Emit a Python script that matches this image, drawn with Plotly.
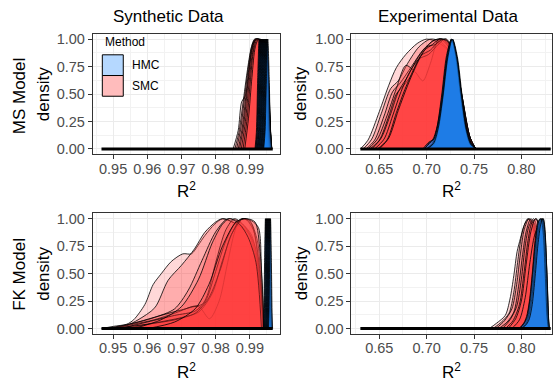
import plotly.graph_objects as go

W, H = 553, 381

# ---------------------------------------------------------------------------
# Data: scaled posterior densities of R^2, stored as (R^2, density) knots
# ---------------------------------------------------------------------------
syn_ticks = [0.95, 0.96, 0.97, 0.98, 0.99]
syn_tick_text = ["0.95", "0.96", "0.97", "0.98", "0.99"]
exp_ticks = [0.65, 0.70, 0.75, 0.80]
exp_tick_text = ["0.65", "0.70", "0.75", "0.80"]
density_ticks = [0.0, 0.25, 0.50, 0.75, 1.00]
density_tick_text = ["0.00", "0.25", "0.50", "0.75", "1.00"]

# sample range of R^2 in each panel (densities are zero outside their support)
ms_syn_range = [0.9466, 0.9967]
ms_exp_range = [0.6300, 0.8310]
fk_syn_range = [0.9466, 0.9967]
fk_exp_range = [0.6300, 0.8310]

# MS model, synthetic data
ms_syn_smc = [
    [(0.9851, 0), (0.9866, 0.17), (0.9876, 0.43), (0.9886, 0.48), (0.9895, 0.62), (0.9905, 0.89),
     (0.9915, 1.0), (0.9930, 1.0), (0.9945, 0.97), (0.9955, 0.6), (0.9962, 0)],
    [(0.9856, 0), (0.9868, 0.15), (0.9880, 0.42), (0.9892, 0.70), (0.9904, 0.92), (0.9914, 1.0),
     (0.9930, 0.98), (0.9946, 0.92), (0.9956, 0.5), (0.9962, 0)],
    [(0.9861, 0), (0.9873, 0.18), (0.9885, 0.48), (0.9896, 0.75), (0.9907, 0.95), (0.9918, 1.0),
     (0.9934, 0.97), (0.9948, 0.85), (0.9957, 0.4), (0.9962, 0)],
    [(0.9866, 0), (0.9878, 0.20), (0.9889, 0.50), (0.9900, 0.80), (0.9911, 0.97), (0.9922, 1.0),
     (0.9937, 0.95), (0.9950, 0.75), (0.9958, 0.3), (0.9963, 0)],
    [(0.9870, 0), (0.9882, 0.22), (0.9893, 0.55), (0.9903, 0.84), (0.9914, 0.98), (0.9925, 1.0),
     (0.9940, 0.93), (0.9951, 0.7), (0.9958, 0.3), (0.9963, 0)],
    [(0.9875, 0), (0.9887, 0.25), (0.9897, 0.58), (0.9907, 0.86), (0.9918, 1.0), (0.9930, 0.99),
     (0.9942, 0.9), (0.9952, 0.6), (0.9959, 0.2), (0.9963, 0)],
    [(0.9880, 0), (0.9891, 0.25), (0.9901, 0.60), (0.9911, 0.90), (0.9922, 1.0), (0.9934, 0.97),
     (0.9945, 0.85), (0.9954, 0.5), (0.9960, 0.15), (0.9964, 0)],
    [(0.9885, 0), (0.9896, 0.28), (0.9906, 0.65), (0.9916, 0.93), (0.9926, 1.0), (0.9938, 0.96),
     (0.9948, 0.8), (0.9956, 0.4), (0.9964, 0)],
]
ms_syn_hmc = [
    [(0.99150, 0), (0.99190, 0.15), (0.99230, 0.65), (0.99270, 1.0), (0.99310, 0.64), (0.99350, 0.15), (0.99390, 0)],
    [(0.99165, 0), (0.99205, 0.14), (0.99245, 0.63), (0.99285, 1.0), (0.99325, 0.66), (0.99365, 0.16), (0.99405, 0)],
    [(0.99180, 0), (0.99220, 0.16), (0.99260, 0.66), (0.99300, 1.0), (0.99340, 0.64), (0.99380, 0.14), (0.99420, 0)],
    [(0.99195, 0), (0.99235, 0.15), (0.99275, 0.64), (0.99315, 1.0), (0.99355, 0.65), (0.99395, 0.15), (0.99435, 0)],
    [(0.99210, 0), (0.99250, 0.13), (0.99290, 0.65), (0.99330, 1.0), (0.99370, 0.63), (0.99410, 0.16), (0.99450, 0)],
    [(0.99225, 0), (0.99265, 0.15), (0.99305, 0.64), (0.99345, 1.0), (0.99385, 0.66), (0.99425, 0.15), (0.99465, 0)],
    [(0.99240, 0), (0.99280, 0.16), (0.99320, 0.66), (0.99360, 1.0), (0.99400, 0.64), (0.99440, 0.14), (0.99480, 0)],
    [(0.99255, 0), (0.99295, 0.14), (0.99335, 0.63), (0.99375, 1.0), (0.99415, 0.65), (0.99455, 0.16), (0.99495, 0)],
    [(0.99270, 0), (0.99310, 0.15), (0.99350, 0.65), (0.99390, 1.0), (0.99430, 0.64), (0.99470, 0.15), (0.99510, 0)],
    [(0.99285, 0), (0.99325, 0.16), (0.99365, 0.64), (0.99405, 1.0), (0.99445, 0.66), (0.99485, 0.14), (0.99525, 0)],
    [(0.99300, 0), (0.99340, 0.15), (0.99380, 0.66), (0.99420, 1.0), (0.99460, 0.63), (0.99500, 0.15), (0.99540, 0)],
    [(0.99315, 0), (0.99355, 0.14), (0.99395, 0.64), (0.99435, 1.0), (0.99475, 0.65), (0.99515, 0.16), (0.99555, 0)],
    [(0.99330, 0), (0.99370, 0.15), (0.99410, 0.65), (0.99450, 1.0), (0.99490, 0.64), (0.99530, 0.15), (0.99570, 0)],
    [(0.99345, 0), (0.99385, 0.16), (0.99425, 0.63), (0.99465, 1.0), (0.99505, 0.66), (0.99545, 0.14), (0.99585, 0)],
    [(0.99360, 0), (0.99400, 0.15), (0.99440, 0.66), (0.99480, 1.0), (0.99520, 0.64), (0.99560, 0.15), (0.99600, 0)],
    [(0.99375, 0), (0.99415, 0.14), (0.99455, 0.64), (0.99495, 1.0), (0.99535, 0.65), (0.99575, 0.16), (0.99615, 0)],
    [(0.99390, 0), (0.99430, 0.15), (0.99470, 0.65), (0.99510, 1.0), (0.99550, 0.63), (0.99590, 0.15), (0.99630, 0)],
    [(0.99405, 0), (0.99445, 0.16), (0.99485, 0.64), (0.99525, 1.0), (0.99565, 0.66), (0.99605, 0.14), (0.99645, 0)],
]

# MS model, experimental data
ms_exp_smc = [
    [(0.630, 0), (0.638, 0.08), (0.650, 0.34), (0.660, 0.58), (0.668, 0.74), (0.678, 0.86), (0.690, 0.96),
     (0.700, 1.0), (0.712, 0.97), (0.724, 0.88), (0.735, 0.50), (0.744, 0.12), (0.751, 0)],
    [(0.633, 0), (0.642, 0.09), (0.652, 0.32), (0.662, 0.55), (0.670, 0.62), (0.680, 0.78), (0.692, 0.93),
     (0.704, 1.0), (0.714, 0.98), (0.726, 0.86), (0.736, 0.48), (0.745, 0.10), (0.752, 0)],
    [(0.636, 0), (0.645, 0.08), (0.655, 0.30), (0.664, 0.52), (0.672, 0.60), (0.684, 0.75), (0.696, 0.90),
     (0.708, 0.99), (0.717, 1.0), (0.727, 0.85), (0.737, 0.45), (0.746, 0.10), (0.752, 0)],
    [(0.638, 0), (0.648, 0.09), (0.658, 0.30), (0.668, 0.55), (0.678, 0.76), (0.688, 0.70), (0.696, 0.62),
     (0.704, 0.78), (0.713, 1.0), (0.724, 0.92), (0.735, 0.52), (0.745, 0.12), (0.751, 0)],
    [(0.640, 0), (0.650, 0.08), (0.660, 0.30), (0.668, 0.50), (0.676, 0.58), (0.686, 0.70), (0.696, 0.88),
     (0.706, 0.98), (0.716, 1.0), (0.725, 0.93), (0.735, 0.55), (0.744, 0.12), (0.751, 0)],
    [(0.642, 0), (0.652, 0.10), (0.662, 0.32), (0.670, 0.52), (0.680, 0.66), (0.690, 0.82), (0.700, 0.93),
     (0.709, 0.95), (0.718, 1.0), (0.727, 0.90), (0.737, 0.48), (0.746, 0.10), (0.752, 0)],
    [(0.645, 0), (0.655, 0.09), (0.664, 0.30), (0.672, 0.50), (0.682, 0.70), (0.692, 0.82), (0.702, 0.86),
     (0.712, 0.95), (0.720, 1.0), (0.728, 0.88), (0.737, 0.50), (0.745, 0.12), (0.751, 0)],
    [(0.648, 0), (0.658, 0.08), (0.668, 0.33), (0.676, 0.52), (0.686, 0.72), (0.694, 0.85), (0.704, 0.90),
     (0.713, 0.98), (0.721, 1.0), (0.729, 0.85), (0.738, 0.45), (0.746, 0.10), (0.752, 0)],
    [(0.650, 0), (0.660, 0.10), (0.670, 0.35), (0.680, 0.58), (0.690, 0.78), (0.698, 0.90), (0.706, 0.95),
     (0.714, 1.0), (0.722, 0.98), (0.730, 0.82), (0.738, 0.45), (0.746, 0.10), (0.752, 0)],
]
ms_exp_hmc = [
    [(0.6996, 0), (0.7066, 0.05), (0.7116, 0.19), (0.7166, 0.48), (0.7216, 0.83), (0.7266, 1.0),
     (0.7316, 0.83), (0.7366, 0.48), (0.7416, 0.19), (0.7466, 0.05), (0.7526, 0)],
    [(0.6960, 0), (0.7020, 0.06), (0.7060, 0.08), (0.7110, 0.20), (0.7161, 0.47), (0.7211, 0.82), (0.7260, 1.0),
     (0.7309, 0.84), (0.7358, 0.49), (0.7408, 0.19), (0.7458, 0.04), (0.7518, 0)],
    [(0.7000, 0), (0.7070, 0.05), (0.7120, 0.20), (0.7170, 0.49), (0.7220, 0.84), (0.7270, 1.0),
     (0.7320, 0.82), (0.7370, 0.47), (0.7420, 0.18), (0.7470, 0.05), (0.7528, 0)],
    [(0.6980, 0), (0.7040, 0.07), (0.7090, 0.10), (0.7140, 0.30), (0.7190, 0.65), (0.7240, 0.93), (0.7264, 1.0),
     (0.7314, 0.85), (0.7364, 0.50), (0.7414, 0.20), (0.7464, 0.05), (0.7524, 0)],
    [(0.7004, 0), (0.7074, 0.04), (0.7124, 0.18), (0.7174, 0.47), (0.7224, 0.82), (0.7274, 1.0),
     (0.7324, 0.84), (0.7374, 0.49), (0.7424, 0.19), (0.7474, 0.05), (0.7530, 0)],
    [(0.6990, 0), (0.7060, 0.05), (0.7110, 0.20), (0.7160, 0.50), (0.7210, 0.85), (0.7262, 1.0),
     (0.7312, 0.82), (0.7362, 0.47), (0.7412, 0.18), (0.7462, 0.04), (0.7520, 0)],
    [(0.6970, 0), (0.7030, 0.05), (0.7075, 0.09), (0.7120, 0.22), (0.7168, 0.48), (0.7218, 0.84), (0.7268, 1.0),
     (0.7318, 0.83), (0.7368, 0.48), (0.7418, 0.19), (0.7468, 0.05), (0.7526, 0)],
    [(0.7002, 0), (0.7072, 0.05), (0.7122, 0.19), (0.7172, 0.48), (0.7222, 0.83), (0.7270, 1.0),
     (0.7318, 0.84), (0.7368, 0.49), (0.7418, 0.18), (0.7468, 0.04), (0.7526, 0)],
]

# FK model, synthetic data
fk_syn_smc = [
    [(0.9466, 0), (0.9500, 0.02), (0.9540, 0.04), (0.9560, 0.08), (0.9593, 0.22), (0.9617, 0.40),
     (0.9641, 0.50), (0.9670, 0.61), (0.9704, 0.68), (0.9729, 0.68), (0.9748, 0.755), (0.9768, 0.845),
     (0.9797, 0.95), (0.9821, 1.0), (0.9850, 0.97), (0.9890, 0.90), (0.9920, 0.60), (0.9935, 0.15), (0.9940, 0)],
    [(0.9480, 0), (0.9540, 0.03), (0.9573, 0.08), (0.9622, 0.19), (0.9661, 0.44), (0.9700, 0.576),
     (0.9738, 0.725), (0.9768, 0.875), (0.9800, 0.97), (0.9820, 1.0), (0.9860, 0.95), (0.9900, 0.85),
     (0.9925, 0.50), (0.9938, 0)],
    [(0.9490, 0), (0.9550, 0.04), (0.9620, 0.10), (0.9680, 0.18), (0.9720, 0.35), (0.9760, 0.62),
     (0.9800, 0.88), (0.9835, 1.0), (0.9870, 0.97), (0.9905, 0.85), (0.9928, 0.45), (0.9940, 0)],
    [(0.9500, 0), (0.9560, 0.04), (0.9620, 0.08), (0.9680, 0.14), (0.9730, 0.20), (0.9760, 0.22),
     (0.9775, 0.30), (0.9800, 0.60), (0.9830, 0.90), (0.9855, 1.0), (0.9885, 0.93), (0.9915, 0.75),
     (0.9932, 0.30), (0.9940, 0)],
    [(0.9480, 0), (0.9560, 0.05), (0.9640, 0.12), (0.9700, 0.17), (0.9750, 0.20), (0.9782, 0.09),
     (0.9810, 0.25), (0.9835, 0.60), (0.9860, 0.92), (0.9880, 1.0), (0.9905, 0.95), (0.9925, 0.60), (0.9938, 0)],
    [(0.9520, 0), (0.9600, 0.06), (0.9680, 0.12), (0.9740, 0.16), (0.9770, 0.25), (0.9800, 0.52),
     (0.9830, 0.80), (0.9860, 0.97), (0.9885, 1.0), (0.9910, 0.90), (0.9930, 0.50), (0.9940, 0)],
    [(0.9540, 0), (0.9620, 0.05), (0.9700, 0.10), (0.9750, 0.15), (0.9790, 0.32), (0.9820, 0.62),
     (0.9850, 0.88), (0.9875, 1.0), (0.9900, 0.98), (0.9922, 0.80), (0.9932, 0.45), (0.9939, 0)],
    [(0.9500, 0), (0.9600, 0.04), (0.9680, 0.08), (0.9740, 0.14), (0.9780, 0.28), (0.9815, 0.55),
     (0.9845, 0.85), (0.9880, 1.0), (0.9905, 0.98), (0.9925, 0.92), (0.9934, 0.50), (0.9941, 0)],
    [(0.9560, 0), (0.9640, 0.08), (0.9700, 0.20), (0.9750, 0.45), (0.9790, 0.78), (0.9820, 0.95),
     (0.9840, 1.0), (0.9870, 0.95), (0.9895, 0.83), (0.9918, 0.60), (0.9934, 0)],
    [(0.9600, 0), (0.9680, 0.06), (0.9740, 0.18), (0.9780, 0.40), (0.9820, 0.75), (0.9860, 0.97),
     (0.9890, 1.0), (0.9915, 0.97), (0.9930, 0.70), (0.9942, 0)],
]
fk_syn_hmc = [
    [(0.99395, 0), (0.99410, 0.15), (0.99430, 0.60), (0.99455, 1.0), (0.99480, 0.61), (0.99500, 0.15), (0.99515, 0)],
    [(0.99410, 0), (0.99425, 0.14), (0.99445, 0.62), (0.99470, 1.0), (0.99495, 0.60), (0.99515, 0.14), (0.99530, 0)],
    [(0.99425, 0), (0.99440, 0.16), (0.99460, 0.61), (0.99485, 1.0), (0.99510, 0.62), (0.99530, 0.15), (0.99545, 0)],
    [(0.99440, 0), (0.99455, 0.15), (0.99475, 0.60), (0.99500, 1.0), (0.99525, 0.61), (0.99545, 0.16), (0.99560, 0)],
    [(0.99455, 0), (0.99470, 0.14), (0.99490, 0.63), (0.99515, 1.0), (0.99540, 0.60), (0.99560, 0.14), (0.99575, 0)],
    [(0.99470, 0), (0.99485, 0.15), (0.99505, 0.62), (0.99530, 1.0), (0.99555, 0.62), (0.99575, 0.15), (0.99590, 0)],
    [(0.99485, 0), (0.99500, 0.16), (0.99520, 0.60), (0.99545, 1.0), (0.99570, 0.61), (0.99590, 0.14), (0.99605, 0)],
    [(0.99500, 0), (0.99515, 0.15), (0.99535, 0.61), (0.99560, 1.0), (0.99585, 0.60), (0.99605, 0.15), (0.99620, 0)],
    [(0.99515, 0), (0.99530, 0.14), (0.99550, 0.62), (0.99575, 1.0), (0.99600, 0.62), (0.99620, 0.16), (0.99635, 0)],
    [(0.99530, 0), (0.99545, 0.15), (0.99565, 0.60), (0.99590, 1.0), (0.99615, 0.61), (0.99635, 0.14), (0.99650, 0)],
    [(0.99545, 0), (0.99560, 0.16), (0.99580, 0.62), (0.99605, 1.0), (0.99630, 0.60), (0.99650, 0.15), (0.99665, 0)],
]

# FK model, experimental data
fk_exp_smc = [
    [(0.7660, 0), (0.7740, 0.05), (0.7830, 0.12), (0.7880, 0.27), (0.7920, 0.48), (0.7955, 0.70),
     (0.7990, 0.82), (0.8025, 0.93), (0.8068, 1.0), (0.8110, 0.95), (0.8160, 0.75), (0.8210, 0.35),
     (0.8250, 0.05), (0.8270, 0)],
    [(0.7700, 0), (0.7790, 0.06), (0.7870, 0.14), (0.7920, 0.33), (0.7960, 0.60), (0.8000, 0.84),
     (0.8040, 0.96), (0.8080, 1.0), (0.8130, 0.92), (0.8180, 0.65), (0.8230, 0.25), (0.8270, 0)],
    [(0.7730, 0), (0.7820, 0.07), (0.7900, 0.18), (0.7950, 0.40), (0.7990, 0.68), (0.8030, 0.90),
     (0.8080, 1.0), (0.8130, 0.95), (0.8180, 0.70), (0.8230, 0.30), (0.8275, 0)],
    [(0.7760, 0), (0.7850, 0.06), (0.7920, 0.15), (0.7970, 0.38), (0.8010, 0.65), (0.8050, 0.88),
     (0.8100, 1.0), (0.8150, 0.93), (0.8200, 0.60), (0.8250, 0.15), (0.8280, 0)],
    [(0.7800, 0), (0.7880, 0.08), (0.7950, 0.20), (0.8000, 0.45), (0.8040, 0.75), (0.8080, 0.93),
     (0.8130, 1.0), (0.8180, 0.85), (0.8230, 0.40), (0.8280, 0)],
    [(0.7830, 0), (0.7910, 0.07), (0.7980, 0.22), (0.8030, 0.52), (0.8070, 0.80), (0.8110, 0.96),
     (0.8160, 1.0), (0.8210, 0.70), (0.8250, 0.25), (0.8285, 0)],
    [(0.7860, 0), (0.7940, 0.09), (0.8000, 0.25), (0.8050, 0.58), (0.8100, 0.88), (0.8150, 1.0),
     (0.8200, 0.90), (0.8240, 0.45), (0.8285, 0)],
    [(0.7900, 0), (0.7980, 0.08), (0.8040, 0.28), (0.8090, 0.60), (0.8140, 0.85), (0.8190, 0.95),
     (0.8230, 1.0), (0.8265, 0.60), (0.8290, 0)],
]
fk_exp_hmc = [
    [(0.7990, 0), (0.8040, 0.04), (0.8070, 0.10), (0.8100, 0.24), (0.8130, 0.49), (0.8160, 0.78),
     (0.8190, 0.96), (0.8215, 1.0), (0.8240, 0.88), (0.8262, 0.50), (0.8280, 0.12), (0.8292, 0)],
    [(0.7975, 0), (0.8025, 0.05), (0.8055, 0.11), (0.8085, 0.25), (0.8115, 0.50), (0.8145, 0.80),
     (0.8175, 0.97), (0.8200, 1.0), (0.8225, 0.86), (0.8248, 0.48), (0.8268, 0.11), (0.8282, 0)],
    [(0.8000, 0), (0.8050, 0.04), (0.8080, 0.09), (0.8110, 0.23), (0.8140, 0.48), (0.8170, 0.77),
     (0.8200, 0.95), (0.8225, 1.0), (0.8248, 0.87), (0.8268, 0.52), (0.8284, 0.13), (0.8294, 0)],
    [(0.7985, 0), (0.8035, 0.05), (0.8065, 0.10), (0.8095, 0.25), (0.8125, 0.51), (0.8155, 0.79),
     (0.8185, 0.97), (0.8210, 1.0), (0.8235, 0.87), (0.8257, 0.49), (0.8276, 0.12), (0.8290, 0)],
    [(0.7995, 0), (0.8045, 0.04), (0.8075, 0.10), (0.8105, 0.24), (0.8135, 0.48), (0.8165, 0.78),
     (0.8195, 0.96), (0.8220, 1.0), (0.8244, 0.86), (0.8265, 0.50), (0.8282, 0.12), (0.8293, 0)],
    [(0.7980, 0), (0.8030, 0.05), (0.8060, 0.11), (0.8090, 0.26), (0.8120, 0.52), (0.8150, 0.80),
     (0.8180, 0.97), (0.8205, 1.0), (0.8230, 0.88), (0.8252, 0.50), (0.8272, 0.11), (0.8286, 0)],
    [(0.8005, 0), (0.8055, 0.04), (0.8085, 0.09), (0.8115, 0.22), (0.8145, 0.47), (0.8175, 0.76),
     (0.8205, 0.95), (0.8230, 1.0), (0.8252, 0.86), (0.8270, 0.50), (0.8286, 0.12), (0.8295, 0)],
]

method_names = ["HMC", "SMC"]
column_titles = ["Synthetic Data", "Experimental Data"]
row_titles = ["MS Model", "FK Model"]

# ---------------------------------------------------------------------------
# Styling / geometry
# ---------------------------------------------------------------------------
FONT = "Liberation Sans, Arial, Helvetica, sans-serif"
SMC_RGB = "255,60,60"
HMC_RGB = "25,125,235"
SMC_ALPHAS = [0.20, 0.28, 0.22, 0.32, 0.25, 0.34, 0.28, 0.36, 0.30, 0.30]
HMC_ALPHA = 0.38
OUTLINE = dict(color="black", width=0.8)

# panel boxes in pixels: (left, right, top, bottom)
cols_px = [(93.0, 281.0), (352.0, 552.5)]
rows_px = [(32.0, 154.5), (214.0, 336.5)]
syn_range = [0.94407, 0.99896]
exp_range = [0.62049, 0.83183]


def px_x(v):
    return v / W


def px_y(v):
    return 1 - v / H


fig = go.Figure()

panels = [
    # (row, col, smc curves, hmc curves, sample range)
    (0, 0, ms_syn_smc, ms_syn_hmc, ms_syn_range),
    (0, 1, ms_exp_smc, ms_exp_hmc, ms_exp_range),
    (1, 0, fk_syn_smc, fk_syn_hmc, fk_syn_range),
    (1, 1, fk_exp_smc, fk_exp_hmc, fk_exp_range),
]

for idx, (r, c, smc, hmc, rng) in enumerate(panels):
    n = idx + 1
    xa = "x" if n == 1 else f"x{n}"
    ya = "y" if n == 1 else f"y{n}"
    for k, curve in enumerate(smc):
        xs = [p[0] for p in curve]
        ys = [p[1] for p in curve]
        a = SMC_ALPHAS[k % len(SMC_ALPHAS)]
        fig.add_trace(go.Scatter(
            x=xs, y=ys, xaxis=xa, yaxis=ya, mode="lines", fill="tozeroy",
            fillcolor=f"rgba({SMC_RGB},{a})", line=dict(shape="spline", smoothing=0.8, **OUTLINE),
            showlegend=False, hoverinfo="skip"))
    for curve in hmc:
        xs = [p[0] for p in curve]
        ys = [p[1] for p in curve]
        fig.add_trace(go.Scatter(
            x=xs, y=ys, xaxis=xa, yaxis=ya, mode="lines", fill="tozeroy",
            fillcolor=f"rgba({HMC_RGB},{HMC_ALPHA})", line=dict(shape="spline", smoothing=0.8, **OUTLINE),
            showlegend=False, hoverinfo="skip"))
    # zero-density baseline shared by all curves over the sampled range
    fig.add_trace(go.Scatter(
        x=rng, y=[0, 0], xaxis=xa, yaxis=ya, mode="lines",
        line=dict(color="black", width=3), showlegend=False, hoverinfo="skip"))

    x0, x1 = cols_px[c]
    y0, y1 = rows_px[r]
    ticks = syn_ticks if c == 0 else exp_ticks
    tick_text = syn_tick_text if c == 0 else exp_tick_text
    xr = syn_range if c == 0 else exp_range
    minor_dx = 0.005 if c == 0 else 0.025
    axis_common = dict(
        showline=True, linecolor="#333333", linewidth=1, mirror=True,
        ticks="outside", ticklen=4, tickwidth=1, tickcolor="#333333",
        showgrid=True, gridcolor="#EBEBEB", gridwidth=1, zeroline=False,
        tickfont=dict(family=FONT, size=14.5, color="#4D4D4D"),
    )
    fig.update_layout(**{
        ("xaxis" if n == 1 else f"xaxis{n}"): dict(
            domain=[px_x(x0), px_x(x1)], anchor=ya, range=xr,
            tickvals=ticks, ticktext=tick_text, ticklabelstandoff=-3,
            minor=dict(dtick=minor_dx, tick0=0, showgrid=True, gridcolor="#F2F2F2", gridwidth=0.6),
            **axis_common),
        ("yaxis" if n == 1 else f"yaxis{n}"): dict(
            domain=[px_y(y1), px_y(y0)], anchor=xa, range=[-0.05, 1.05],
            tickvals=density_ticks, ticktext=density_tick_text,
            minor=dict(dtick=0.125, tick0=0, showgrid=True, gridcolor="#F2F2F2", gridwidth=0.6),
            **axis_common),
    })

annotations = []


def label(text, x, y, size=17, angle=0, xanchor="center", color="black"):
    annotations.append(dict(
        text=text, x=px_x(x), y=px_y(y), xref="paper", yref="paper", showarrow=False,
        xanchor=xanchor, yanchor="middle", textangle=angle,
        font=dict(family=FONT, size=size, color=color)))


# column titles
label(column_titles[0], 169, 14.5)
label(column_titles[1], 449, 14.5)
# x-axis titles
for (x0, x1) in cols_px:
    label("R<sup>2</sup>", (x0 + x1) / 2, 191)
    label("R<sup>2</sup>", (x0 + x1) / 2, 373.5)
# row / y-axis titles
label(row_titles[0], 19.5, 95, angle=-90)
label(row_titles[1], 19.5, 276, angle=-90)
for yc in (93, 275):
    label("density", 43.5, yc, angle=-90)
    label("density", 301.5, yc, angle=-90)

# legend drawn inside the top-left panel
legend_fill = {"HMC": "#B5D8FF", "SMC": "#FFBCBC"}
shapes = []
key_top = 53.5
for i, name in enumerate(method_names):
    ty = key_top + i * 21
    shapes.append(dict(
        type="rect", xref="paper", yref="paper",
        x0=px_x(102.5), x1=px_x(123.5), y0=px_y(ty + 21), y1=px_y(ty),
        fillcolor=legend_fill[name], line=dict(color="black", width=1)))
    label(name, 130, ty + 10.5, size=12, xanchor="left")
label("Method", 103, 41, size=12, xanchor="left")

fig.update_layout(
    width=W, height=H, margin=dict(l=0, r=0, t=0, b=0),
    paper_bgcolor="white", plot_bgcolor="white",
    annotations=annotations, shapes=shapes, showlegend=False,
)

fig.write_html("out.html")
